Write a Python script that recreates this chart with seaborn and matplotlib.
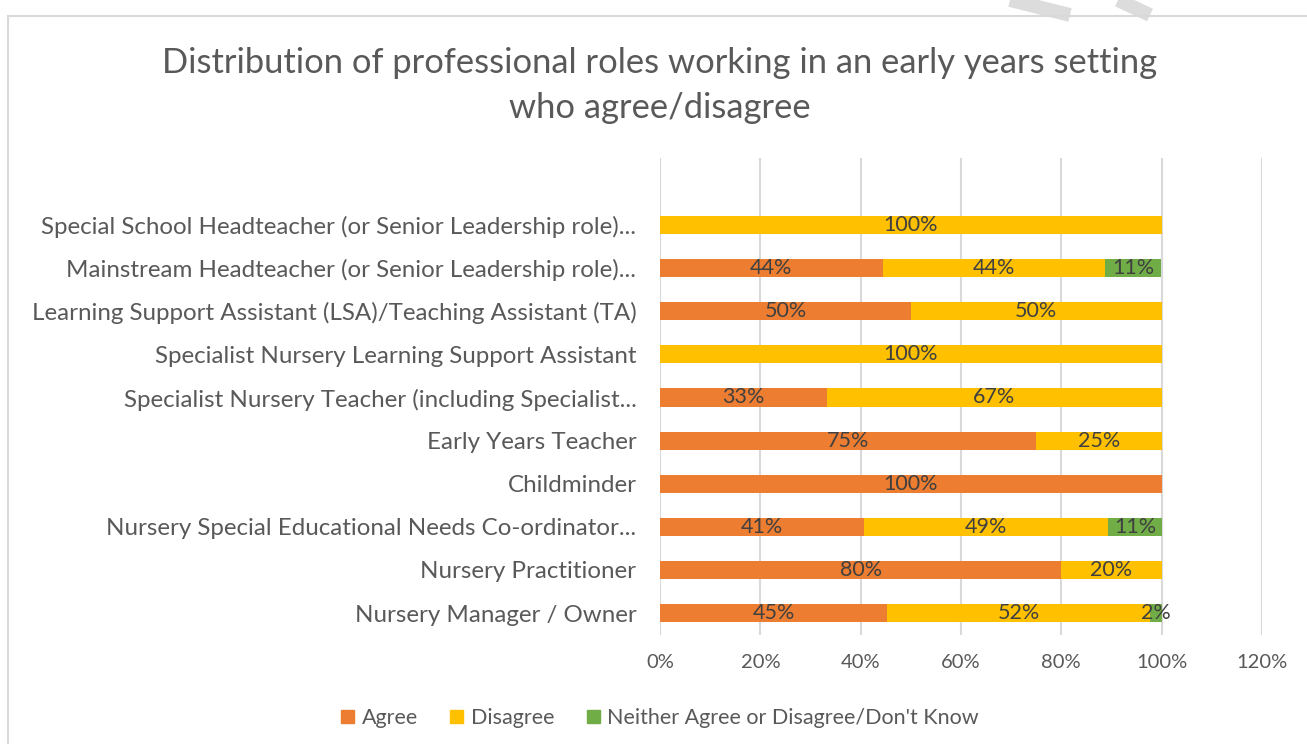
import matplotlib
matplotlib.use('Agg')
import matplotlib.pyplot as plt
import seaborn as sns
import pandas as pd
import numpy as np
from matplotlib.patches import Rectangle
from matplotlib.lines import Line2D

# roles, top to bottom as in the chart
roles = [
    'Special School Headteacher (or Senior Leadership role)...',
    'Mainstream Headteacher (or Senior Leadership role)...',
    'Learning Support Assistant (LSA)/Teaching Assistant (TA)',
    'Specialist Nursery Learning Support Assistant',
    'Specialist Nursery Teacher (including Specialist...',
    'Early Years Teacher',
    'Childminder',
    'Nursery Special Educational Needs Co-ordinator...',
    'Nursery Practitioner',
    'Nursery Manager / Owner',
]
agree = [0, 44.4, 50, 0, 33.3, 75, 100, 40.6, 80, 45.3]
disagree = [100, 44.4, 50, 100, 66.7, 25, 0, 48.8, 20, 52.4]
neither = [0, 11.1, 0, 0, 0, 0, 0, 10.6, 0, 2.3]

series = ['Agree', 'Disagree', "Neither Agree or Disagree/Don't Know"]
colors = ['#ED7D31', '#FFC000', '#70AD47']
TXT = '#595959'

sns.set_theme(style='white')
plt.rcParams['font.family'] = ['Lato', 'DejaVu Sans']

df = pd.DataFrame({'role': roles, 'Agree': agree, 'Disagree': disagree, 'Neither': neither})
df['c1'] = df['Agree']
df['c2'] = df['Agree'] + df['Disagree']
df['c3'] = df['c2'] + df['Neither']

fig = plt.figure(figsize=(13.07, 7.44), dpi=100)
ax = fig.add_axes([0.505, 0.147, 0.4605, 0.641])

# stack by overlaying cumulative bars, widest first
for col, c in zip(['c3', 'c2', 'c1'], colors[::-1]):
    sns.barplot(data=df, x=col, y='role', orient='h', color=c, width=0.42,
                saturation=1, ax=ax, linewidth=0)

# segment labels
for i, row in df.iterrows():
    start = 0
    for name in ['Agree', 'Disagree', 'Neither']:
        v = row[name]
        if v > 0:
            ax.text(start + v / 2, i, f"{v:.0f}%", ha='center', va='center',
                    fontsize=15.5, color='#404040')
        start += v

ax.set_xlim(0, 120)
ax.set_ylim(9.5, -1.56)
ax.set_xticks(np.arange(0, 121, 20))
ax.set_xticklabels([f"{t}%" for t in range(0, 121, 20)])
ax.xaxis.grid(True, color='#D9D9D9', linewidth=1.5)
ax.set_axisbelow(True)
for s in ax.spines.values():
    s.set_visible(False)
ax.set_xlabel('')
ax.set_ylabel('')
ax.tick_params(axis='y', length=0, pad=17, labelsize=17.4, labelcolor=TXT)
ax.tick_params(axis='x', length=0, pad=14, labelsize=14.5, labelcolor=TXT)

fig.text(0.505, 0.937, 'Distribution of professional roles working in an early years setting\nwho agree/disagree',
         ha='center', va='top', fontsize=24.8, color=TXT, linespacing=1.5)

handles = [Rectangle((0, 0), 1, 1, color=c) for c in colors]
fig.legend(handles, series, loc='center', bbox_to_anchor=(0.505, 0.035), ncol=3,
           frameon=False, fontsize=15.5, handlelength=0.6, handleheight=0.6,
           columnspacing=1.5, handletextpad=0.35, labelcolor=TXT)

# chart border and faint watermark strokes
fig.patches.append(Rectangle((8 / 1307, -0.1), 1.1, 1 - 16 / 744 + 0.1, transform=fig.transFigure,
                             fill=False, edgecolor='#D9D9D9', linewidth=1.5, zorder=0))
for x0, x1 in [(1010, 1070), (1118, 1150)]:
    fig.lines.append(Line2D([x0 / 1307, x1 / 1307], [1.0, 1 - 15 / 744], transform=fig.transFigure,
                            color='#DCDCDC', linewidth=10, solid_capstyle='butt', zorder=0))

fig.savefig('out.png', dpi=100, facecolor='white')
